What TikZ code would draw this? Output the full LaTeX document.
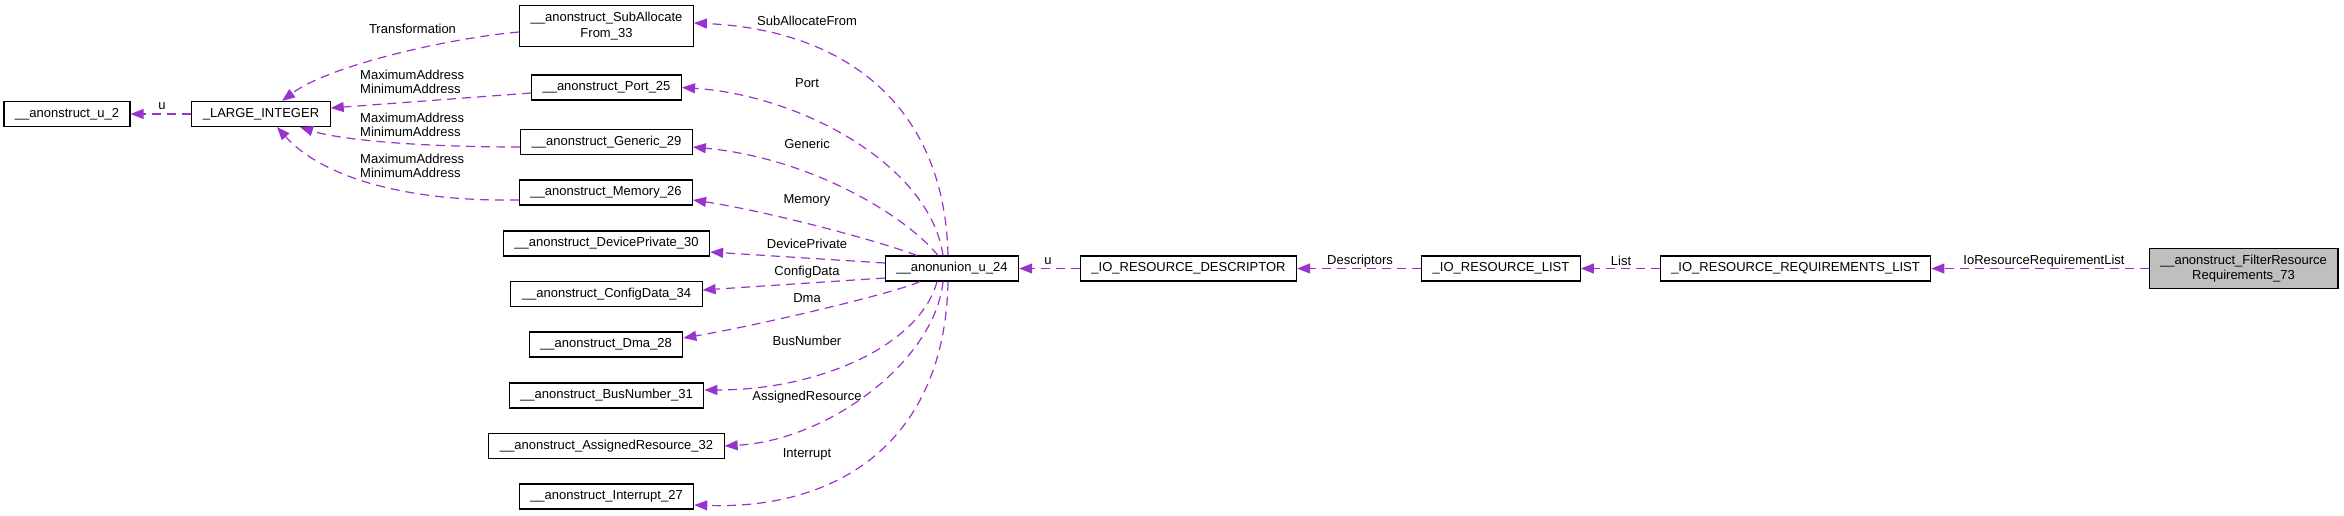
\documentclass[tikz,border=0pt]{standalone}
\usepackage{fontspec}
\setmainfont{Liberation Sans}
\usetikzlibrary{arrows.meta}
\definecolor{edgepurple}{HTML}{9A32CD}

\begin{document}
\begin{tikzpicture}[x=1pt, y=-1pt,
  cls/.style={rectangle, draw=black, line width=1.1pt, inner xsep=11pt, inner ysep=6.5pt, minimum height=25pt, align=center, font=\fontsize{13}{15.5}\selectfont},
  root/.style={cls, fill=gray!50},
  lbl/.style={inner sep=0pt, font=\fontsize{13}{14}\selectfont},
  arrow/.style={->, >={Triangle[length=13pt, width=10pt]}, color=edgepurple, line width=1.2pt, dash pattern=on 9pt off 6pt}
]
\useasboundingbox (0,0) rectangle (2344,515);

% classes
\node[cls] (u2) at (67,114) {\_\_anonstruct\_u\_2};
\node[cls] (large) at (261,114) {\_LARGE\_INTEGER};
\node[cls] (sub) at (606.5,26) {\_\_anonstruct\_SubAllocate\\From\_33};
\node[cls] (port) at (606.5,87.5) {\_\_anonstruct\_Port\_25};
\node[cls] (generic) at (606.5,142) {\_\_anonstruct\_Generic\_29};
\node[cls] (memory) at (606,192.5) {\_\_anonstruct\_Memory\_26};
\node[cls] (devpriv) at (606.5,243.5) {\_\_anonstruct\_DevicePrivate\_30};
\node[cls] (config) at (606.5,294) {\_\_anonstruct\_ConfigData\_34};
\node[cls] (dma) at (606,344.5) {\_\_anonstruct\_Dma\_28};
\node[cls] (busnum) at (606.5,395.5) {\_\_anonstruct\_BusNumber\_31};
\node[cls] (assigned) at (606.5,446) {\_\_anonstruct\_AssignedResource\_32};
\node[cls] (interrupt) at (606.5,496.5) {\_\_anonstruct\_Interrupt\_27};
\node[cls] (anonu) at (952,268.5) {\_\_anonunion\_u\_24};
\node[cls] (desc) at (1188.5,268.5) {\_IO\_RESOURCE\_DESCRIPTOR};
\node[cls] (list) at (1501,268.5) {\_IO\_RESOURCE\_LIST};
\node[cls] (reqlist) at (1795.5,268.5) {\_IO\_RESOURCE\_REQUIREMENTS\_LIST};
\node[root] (filter) at (2243.5,268.5) {\_\_anonstruct\_FilterResource\\Requirements\_73};

% member labels
\node[lbl] (lU) at (162,106) {u};
\node[lbl] (lTrans) at (412.5,29) {Transformation};
\node[lbl, align=left, anchor=west] (lPortAddr) at (360,82) {MaximumAddress\\MinimumAddress};
\node[lbl, align=left, anchor=west] (lGenAddr) at (360,125) {MaximumAddress\\MinimumAddress};
\node[lbl, align=left, anchor=west] (lMemAddr) at (360,166) {MaximumAddress\\MinimumAddress};
\node[lbl] (lSub) at (807,21) {SubAllocateFrom};
\node[lbl] (lPort) at (807,83) {Port};
\node[lbl] (lGeneric) at (807,144) {Generic};
\node[lbl] (lMemory) at (807,200) {Memory};
\node[lbl] (lDevPriv) at (807,244) {DevicePrivate};
\node[lbl] (lConfig) at (807,272) {ConfigData};
\node[lbl] (lDma) at (807,298) {Dma};
\node[lbl] (lBus) at (807,341) {BusNumber};
\node[lbl] (lAssigned) at (807,397) {AssignedResource};
\node[lbl] (lInterrupt) at (807,454) {Interrupt};
\node[lbl] (lU24) at (1048,261) {u};
\node[lbl] (lDesc) at (1360,261) {Descriptors};
\node[lbl] (lList) at (1621,261) {List};
\node[lbl] (lReq) at (2044,261) {IoResourceRequirementList};

% _LARGE_INTEGER
\draw[arrow] (large) -- (u2);
\draw[arrow] ([yshift=-6pt]sub.west) .. controls (450,38) and (330,65) .. ([xshift=21pt]large.north);
\draw[arrow] ([yshift=-5.5pt]port.west) -- ([yshift=6pt]large.east);
\draw[arrow] ([yshift=-5pt]generic.west) .. controls (420,147) and (340,140) .. ([xshift=39pt]large.south);
\draw[arrow] ([yshift=-7.5pt]memory.west) .. controls (400,202) and (320,175) .. ([xshift=16pt]large.south);

% union members
\draw[arrow] ([xshift=-4pt]anonu.north) .. controls (945,110) and (850,30) .. ([yshift=3pt]sub.east);
\draw[arrow] ([xshift=-9pt]anonu.north) .. controls (930,165) and (800,95) .. (port.east);
\draw[arrow] ([xshift=-14pt]anonu.north) .. controls (905,215) and (810,158) .. ([yshift=-5pt]generic.east);
\draw[arrow] ([xshift=-35pt]anonu.north) .. controls (870,238) and (760,210) .. ([yshift=-7.5pt]memory.east);
\draw[arrow] ([yshift=5.5pt]anonu.west) -- ([yshift=-8.5pt]devpriv.east);
\draw[arrow] ([yshift=-9.5pt]anonu.west) -- ([yshift=4pt]config.east);
\draw[arrow] ([xshift=-32pt]anonu.south) .. controls (895,293) and (760,325) .. ([yshift=6.5pt]dma.east);
\draw[arrow] ([xshift=-15pt]anonu.south) .. controls (920,345) and (820,390) .. ([yshift=5.5pt]busnum.east);
\draw[arrow] ([xshift=-9pt]anonu.south) .. controls (935,360) and (830,440) .. (assigned.east);
\draw[arrow] ([xshift=-4pt]anonu.south) .. controls (945,440) and (840,510) .. ([yshift=-8.5pt]interrupt.east);

% chain to the root
\draw[arrow] (desc) -- (anonu);
\draw[arrow] (list) -- (desc);
\draw[arrow] (reqlist) -- (list);
\draw[arrow] (filter) -- (reqlist);
\end{tikzpicture}
\end{document}
